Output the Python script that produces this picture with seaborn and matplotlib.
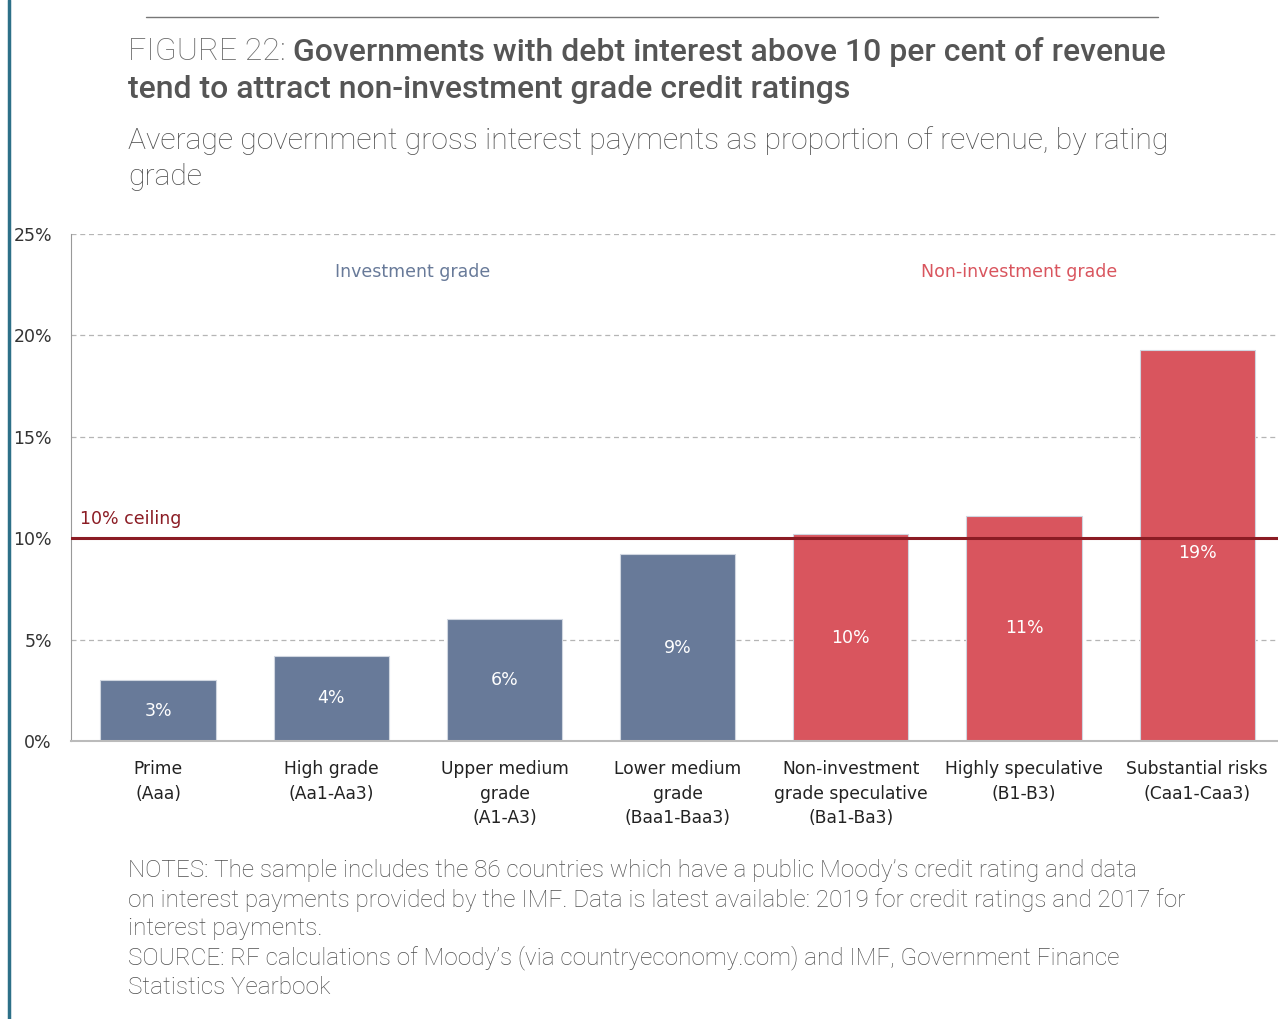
import pandas as pd
import matplotlib.pyplot as plt
import seaborn as sns
from matplotlib.lines import Line2D

# chart data
grades = ['Prime\n(Aaa)', 'High grade\n(Aa1-Aa3)', 'Upper medium\ngrade\n(A1-A3)',
          'Lower medium\ngrade\n(Baa1-Baa3)', 'Non-investment\ngrade speculative\n(Ba1-Ba3)',
          'Highly speculative\n(B1-B3)', 'Substantial risks\n(Caa1-Caa3)']
values = [3.0, 4.2, 6.0, 9.2, 10.2, 11.1, 19.3]
labels = ['3%', '4%', '6%', '9%', '10%', '11%', '19%']
groups = ['Investment grade'] * 4 + ['Non-investment grade'] * 3
yticks = [0, 5, 10, 15, 20, 25]
ceiling = 10

BLUE = '#687a99'
RED = '#d9555e'
DARKRED = '#8b1c24'
GREY = '#555555'
SUBGREY = '#4f4f4f'

df = pd.DataFrame({'grade': grades, 'value': values, 'group': groups})

sns.set_style('white')
plt.rcParams['font.family'] = ['DejaVu Sans']

fig = plt.figure(figsize=(12.78, 10.19), dpi=100)
ax = fig.add_axes([0.0559, 0.2728, 0.9487, 0.4976])

sns.barplot(data=df, x='grade', y='value', hue='group',
            palette={'Investment grade': BLUE, 'Non-investment grade': RED},
            dodge=False, width=0.665, legend=False, ax=ax, saturation=1,
            edgecolor='#d0d6e0', linewidth=0.8)

ax.set_ylim(0, 25)
ax.set_xlim(-0.5, 6.5)
ax.set_yticks(yticks)
ax.set_yticklabels([f'{t}%' for t in yticks], fontsize=12.5, color='#333333')
ax.tick_params(axis='y', length=6, color='#999999', pad=8)
ax.tick_params(axis='x', length=0, pad=14, labelsize=12.3, labelcolor='#222222')
ax.set_xlabel('')
ax.set_ylabel('')
ax.yaxis.grid(True, linestyle=(0, (4, 3)), color='#b5b5b5', linewidth=0.9)
ax.set_axisbelow(True)
for s in ['top', 'right']:
    ax.spines[s].set_visible(False)
ax.spines['left'].set_color('#999999')
ax.spines['bottom'].set_color('#bbbbbb')
ax.spines['bottom'].set_linewidth(1.5)
for lab in ax.get_xticklabels():
    lab.set_linespacing(1.45)
    lab.set_verticalalignment('top')

# value labels in bars (nudged below the ceiling line where they would clash)
for i, (v, t) in enumerate(zip(values, labels)):
    y = v / 2
    if abs(y - ceiling) < 0.8:
        y = ceiling - 0.75
    ax.text(i, y, t, ha='center', va='center', color='white', fontsize=12.5)

# ceiling line
ax.axhline(ceiling, color=DARKRED, linewidth=2.2, zorder=5)
ax.text(-0.45, ceiling + 0.5, '10% ceiling', color=DARKRED, fontsize=12.5,
        ha='left', va='bottom')

ax.text(1.47, 23.1, 'Investment grade', color=BLUE, fontsize=12.5, ha='center', va='center')
ax.text(4.97, 23.1, 'Non-investment grade', color=RED, fontsize=12.5, ha='center', va='center')

# decorations
fig.add_artist(Line2D([9 / 1278, 9 / 1278], [0, 1], color='#2d7088', linewidth=2.5))
fig.add_artist(Line2D([146 / 1278, 1158 / 1278], [1 - 17 / 1019] * 2, color='#777777', linewidth=1))

tf = ['Roboto', 'DejaVu Sans']
fig.canvas.draw()
lead = fig.text(128 / 1278, 1 - 52 / 1019, 'FIGURE 22: ', family=tf, fontsize=23,
                color='#6a6a6a', fontweight='light', va='center', ha='left')
bb = lead.get_window_extent(renderer=fig.canvas.get_renderer())
fig.text(bb.x1 / fig.bbox.width, 1 - 52 / 1019,
         'Governments with debt interest above 10 per cent of revenue',
         family=tf, fontsize=23, color=GREY, fontweight='medium', va='center', ha='left')
fig.text(128 / 1278, 1 - 90 / 1019, 'tend to attract non-investment grade credit ratings',
         family=tf, fontsize=23, color=GREY, fontweight='medium', va='center', ha='left')
fig.text(128 / 1278, 1 - 141 / 1019,
         'Average government gross interest payments as proportion of revenue, by rating',
         family=tf, fontsize=21.7, color=SUBGREY, fontweight='light', va='center', ha='left')
fig.text(128 / 1278, 1 - 177 / 1019, 'grade',
         family=tf, fontsize=21.7, color=SUBGREY, fontweight='light', va='center', ha='left')

notes = ['NOTES: The sample includes the 86 countries which have a public Moody\u2019s credit rating and data',
         'on interest payments provided by the IMF. Data is latest available: 2019 for credit ratings and 2017 for',
         'interest payments.',
         'SOURCE: RF calculations of Moody\u2019s (via countryeconomy.com) and IMF, Government Finance',
         'Statistics Yearbook']
for k, line in enumerate(notes):
    fig.text(128 / 1278, 1 - (871 + 29 * k) / 1019, line, family=tf, fontsize=17.5,
             color=SUBGREY, fontweight='light', va='center', ha='left')

fig.savefig('out.png', dpi=100)
